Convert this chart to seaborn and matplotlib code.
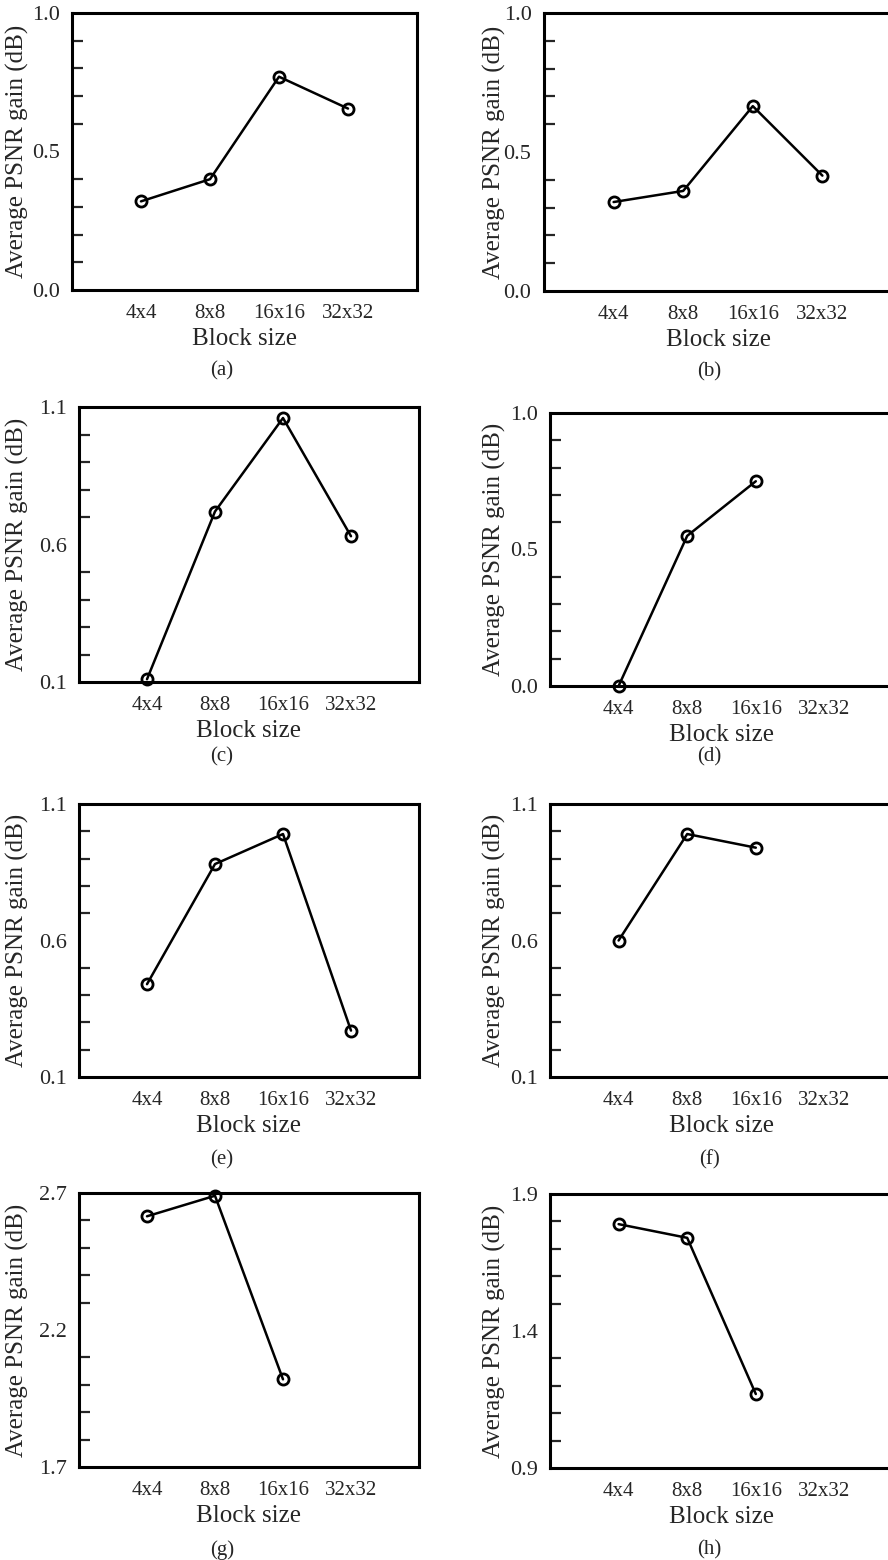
import numpy as np
import matplotlib
matplotlib.use('Agg')
import matplotlib.pyplot as plt
import pandas as pd
import seaborn as sns
from matplotlib.ticker import FormatStrFormatter

# Data
block_sizes = ['4x4', '8x8', '16x16', '32x32']
gain_a = [0.32, 0.40, 0.77, 0.655]
gain_b = [0.32, 0.36, 0.665, 0.415]
gain_c = [0.11, 0.72, 1.06, 0.63]
gain_d = [0.00, 0.55, 0.75]
gain_e = [0.44, 0.88, 0.99, 0.27]
gain_f = [0.60, 0.99, 0.94]
gain_g = [2.615, 2.69, 2.02]
gain_h = [1.79, 1.74, 1.17]

panels = ['a', 'b', 'c', 'd', 'e', 'f', 'g', 'h']
gains = [gain_a, gain_b, gain_c, gain_d, gain_e, gain_f, gain_g, gain_h]
y_bottom = [0.0, 0.0, 0.1, 0.0, 0.1, 0.1, 1.7, 0.9]

sns.set_style('white')
plt.rcParams['font.family'] = ['Liberation Serif', 'DejaVu Serif']

W, H = 888, 1560
fig = plt.figure(figsize=(W / 100, H / 100), dpi=100)

# axes boxes in pixels: left, right, top, bottom
boxes = [(72, 417, 13, 290), (544, 892, 13, 291),
         (79, 419, 407, 682), (550, 893, 413, 686),
         (79, 419, 804, 1077), (550, 893, 804, 1077),
         (79, 419, 1193, 1467), (550, 893, 1194, 1468)]
caption_y = [371, 372, 757, 757, 1160, 1160, 1550, 1550]

for i, p in enumerate(panels):
    l, r, t, b = boxes[i]
    ax = fig.add_axes([l / W, 1 - b / H, (r - l) / W, (b - t) / H])
    df = pd.DataFrame({'pos': np.arange(1, len(gains[i]) + 1), 'gain': gains[i]})
    sns.lineplot(data=df, x='pos', y='gain', ax=ax, color='black', linewidth=1.8,
                 marker='o', markersize=8, markerfacecolor='none',
                 markeredgecolor='black', markeredgewidth=2.0, clip_on=False)
    y0 = y_bottom[i]
    ax.set_xlim(0, 5)
    ax.set_ylim(y0, y0 + 1.0)
    ax.set_xticks(range(6))
    ax.set_xticklabels([''] + block_sizes + [''], fontsize=15)
    ax.set_yticks(y0 + np.array([0.0, 0.5, 1.0]))
    ax.set_yticks(y0 + np.arange(1, 10) * 0.1, minor=True)
    ax.yaxis.set_major_formatter(FormatStrFormatter('%.1f'))
    ax.tick_params(axis='x', which='major', direction='inout', length=14, width=1.6, pad=3)
    ax.tick_params(axis='y', which='major', direction='out', length=7, width=1.6, pad=2, labelsize=16)
    ax.tick_params(axis='y', which='minor', direction='in', length=8, width=1.6, left=True)
    for s in ax.spines.values():
        s.set_linewidth(2.2)
        s.set_color('black')
    ax.set_xlabel('Block size', fontsize=18, labelpad=4)
    ax.set_ylabel('Average PSNR gain (dB)', fontsize=18)
    label_x = 29 if i % 2 == 0 else 506
    ax.yaxis.set_label_coords((label_x - l) / (r - l), 0.5)
    cx = 222 if i % 2 == 0 else 709
    fig.text(cx / W, 1 - caption_y[i] / H, '(%s)' % p, fontsize=15, ha='center', va='center')

fig.savefig('out.png', dpi=100)
